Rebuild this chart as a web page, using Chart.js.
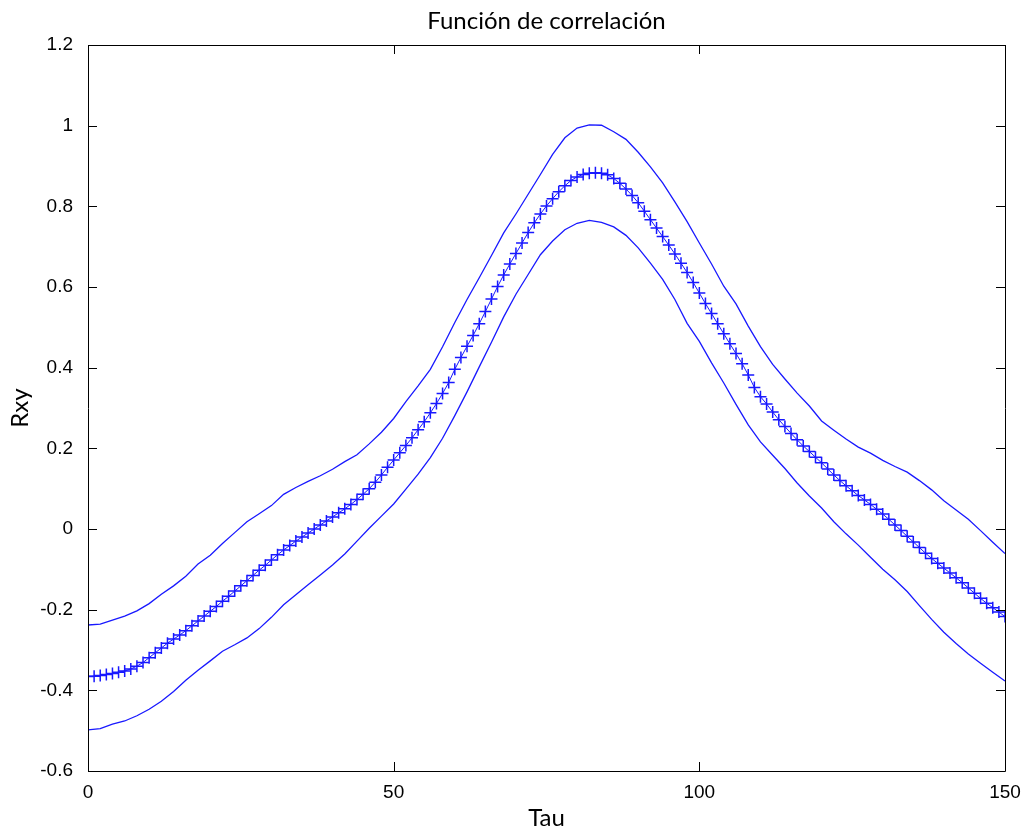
<!DOCTYPE html>
<html>
<head>
<meta charset="utf-8">
<title>Función de correlación</title>
<script src="https://cdn.jsdelivr.net/npm/chart.js@4.4.1/dist/chart.umd.min.js"></script>
<style>
  html, body { margin: 0; padding: 0; background: #fff; }
  #wrap { width: 1028px; height: 835px; position: relative; }
</style>
</head>
<body>
<div id="wrap"><canvas id="corr"></canvas></div>
<script>
// Rxy estimada, un valor por cada Tau entero (0..150)
const rxy = [
  -0.366, -0.365, -0.363, -0.361, -0.358, -0.355, -0.352, -0.347, -0.340, -0.331,
  -0.319, -0.307, -0.295, -0.283, -0.273, -0.263, -0.252, -0.240, -0.228, -0.216,
  -0.204, -0.192, -0.179, -0.167, -0.154, -0.141, -0.128, -0.115, -0.102, -0.090,
  -0.077, -0.064, -0.052, -0.041, -0.030, -0.020, -0.010, 0.000, 0.010, 0.020,
  0.030, 0.040, 0.050, 0.061, 0.073, 0.086, 0.100, 0.116, 0.134, 0.153,
  0.171, 0.189, 0.207, 0.226, 0.246, 0.266, 0.288, 0.311, 0.336, 0.363,
  0.396, 0.425, 0.453, 0.480, 0.509, 0.539, 0.570, 0.601, 0.630, 0.657,
  0.683, 0.709, 0.735, 0.759, 0.781, 0.801, 0.819, 0.836, 0.851, 0.864,
  0.873, 0.879, 0.882, 0.883, 0.882, 0.878, 0.869, 0.857, 0.843, 0.827,
  0.809, 0.788, 0.767, 0.746, 0.725, 0.704, 0.682, 0.659, 0.636, 0.611,
  0.585, 0.559, 0.534, 0.509, 0.484, 0.459, 0.435, 0.410, 0.382, 0.351,
  0.328, 0.310, 0.290, 0.271, 0.254, 0.237, 0.221, 0.206, 0.192, 0.178,
  0.164, 0.149, 0.134, 0.120, 0.107, 0.095, 0.083, 0.072, 0.061, 0.049,
  0.037, 0.024, 0.010, -0.004, -0.018, -0.032, -0.046, -0.060, -0.073, -0.085,
  -0.097, -0.109, -0.121, -0.133, -0.146, -0.159, -0.172, -0.184, -0.195, -0.206,
  -0.217
];

// Bandas de confianza, muestreadas cada 2 unidades de Tau
const tauBand = [
  0, 2, 4, 6, 8, 10, 12, 14, 16, 18, 20, 22, 24, 26, 28, 30, 32, 34, 36, 38,
  40, 42, 44, 46, 48, 50, 52, 54, 56, 58, 60, 62, 64, 66, 68, 70, 72, 74, 76, 78,
  80, 82, 84, 86, 88, 90, 92, 94, 96, 98, 100, 102, 104, 106, 108, 110, 112, 114, 116, 118,
  120, 122, 124, 126, 128, 130, 132, 134, 136, 138, 140, 142, 144, 146, 148, 150
];
const upperBand = [
  -0.238, -0.236, -0.226, -0.216, -0.203, -0.185, -0.162, -0.141, -0.117, -0.087,
  -0.065, -0.036, -0.009, 0.018, 0.038, 0.058, 0.086, 0.103, 0.118, 0.132,
  0.148, 0.167, 0.184, 0.211, 0.240, 0.274, 0.316, 0.355, 0.396, 0.452,
  0.512, 0.569, 0.623, 0.678, 0.734, 0.781, 0.830, 0.879, 0.929, 0.970,
  0.994, 1.002, 1.001, 0.985, 0.966, 0.934, 0.898, 0.858, 0.811, 0.762,
  0.709, 0.657, 0.602, 0.558, 0.503, 0.452, 0.408, 0.372, 0.337, 0.305,
  0.268, 0.245, 0.223, 0.203, 0.188, 0.170, 0.155, 0.141, 0.120, 0.097,
  0.070, 0.047, 0.024, -0.004, -0.033, -0.061
];
const lowerBand = [
  -0.498, -0.495, -0.484, -0.476, -0.463, -0.447, -0.427, -0.403, -0.375, -0.350,
  -0.327, -0.303, -0.287, -0.270, -0.247, -0.219, -0.188, -0.163, -0.138, -0.114,
  -0.089, -0.062, -0.030, 0.002, 0.032, 0.062, 0.099, 0.136, 0.177, 0.225,
  0.281, 0.340, 0.402, 0.463, 0.526, 0.582, 0.631, 0.680, 0.714, 0.742,
  0.758, 0.765, 0.760, 0.749, 0.728, 0.697, 0.659, 0.619, 0.569, 0.510,
  0.465, 0.412, 0.362, 0.309, 0.258, 0.216, 0.183, 0.150, 0.114, 0.082,
  0.052, 0.018, -0.012, -0.040, -0.070, -0.100, -0.126, -0.155, -0.190, -0.224,
  -0.256, -0.284, -0.310, -0.333, -0.355, -0.377
];

const xTicks = [0, 50, 100, 150];
const yTicks = [-0.6, -0.4, -0.2, 0, 0.2, 0.4, 0.6, 0.8, 1, 1.2];
const yTickLabels = ['-0.6', '-0.4', '-0.2', '0', '0.2', '0.4', '0.6', '0.8', '1', '1.2'];

const BLUE = 'rgb(24, 24, 255)';
const labelFont = "Lato, 'Open Sans', sans-serif";
const tickFont = "'Liberation Sans', Arial, sans-serif";

const rxyPoints = rxy.map((v, i) => ({ x: i, y: v }));
const upperPoints = tauBand.map((t, i) => ({ x: t, y: upperBand[i] }));
const lowerPoints = tauBand.map((t, i) => ({ x: t, y: lowerBand[i] }));

// caja cerrada con marcas hacia dentro en los cuatro lados, estilo MATLAB
const boxPlugin = {
  id: 'matlabBox',
  afterDraw(chart) {
    const { ctx, chartArea: a, scales } = chart;
    const len = 9;
    ctx.save();
    ctx.strokeStyle = '#000';
    ctx.lineWidth = 1;
    ctx.beginPath();
    ctx.rect(Math.round(a.left) + 0.5, Math.round(a.top) + 0.5,
             Math.round(a.right - a.left), Math.round(a.bottom - a.top));
    scales.x.ticks.forEach(t => {
      const px = Math.round(scales.x.getPixelForValue(t.value)) + 0.5;
      ctx.moveTo(px, a.bottom); ctx.lineTo(px, a.bottom - len);
      ctx.moveTo(px, a.top); ctx.lineTo(px, a.top + len);
    });
    scales.y.ticks.forEach(t => {
      const py = Math.round(scales.y.getPixelForValue(t.value)) + 0.5;
      ctx.moveTo(a.left, py); ctx.lineTo(a.left + len, py);
      ctx.moveTo(a.right, py); ctx.lineTo(a.right - len, py);
    });
    ctx.stroke();

    // título centrado sobre el área de datos
    ctx.fillStyle = '#000';
    ctx.font = '24px ' + labelFont;
    ctx.textAlign = 'center';
    ctx.textBaseline = 'middle';
    ctx.fillText('Función de correlación', (a.left + a.right) / 2, 21);
    ctx.restore();
  }
};

new Chart(document.getElementById('corr'), {
  type: 'line',
  data: {
    datasets: [
      {
        data: upperPoints,
        borderColor: BLUE,
        borderWidth: 1.3,
        pointRadius: 0,
        tension: 0
      },
      {
        data: lowerPoints,
        borderColor: BLUE,
        borderWidth: 1.3,
        pointRadius: 0,
        tension: 0
      },
      {
        data: rxyPoints,
        borderColor: BLUE,
        borderWidth: 1,
        pointStyle: 'cross',
        pointRadius: 6,
        pointBorderWidth: 1.5,
        pointBorderColor: BLUE,
        tension: 0
      }
    ]
  },
  options: {
    responsive: true,
    maintainAspectRatio: false,
    animation: false,
    layout: { padding: { top: 45, right: 23, left: 0, bottom: 0 } },
    plugins: {
      legend: { display: false },
      tooltip: { enabled: false }
    },
    scales: {
      x: {
        type: 'linear',
        min: 0,
        max: 150,
        afterBuildTicks: s => { s.ticks = xTicks.map(v => ({ value: v })); },
        afterFit: s => { s.height = 64; },
        grid: { display: false },
        border: { display: false },
        ticks: {
          color: '#000',
          font: { family: tickFont, size: 19 },
          padding: 2,
          maxRotation: 0,
          callback: v => String(v)
        },
        title: {
          display: true,
          text: 'Tau',
          color: '#000',
          font: { family: labelFont, size: 24 },
          padding: { top: 0, bottom: 2 }
        }
      },
      y: {
        type: 'linear',
        min: -0.6,
        max: 1.2,
        afterBuildTicks: s => { s.ticks = yTicks.map(v => ({ value: v })); },
        afterFit: s => { s.width = 88; },
        grid: { display: false },
        border: { display: false },
        ticks: {
          color: '#000',
          font: { family: tickFont, size: 19 },
          padding: 7,
          callback: (v, i) => yTickLabels[i]
        },
        title: {
          display: true,
          text: 'Rxy',
          color: '#000',
          font: { family: labelFont, size: 24 },
          padding: { top: 6, bottom: 0 }
        }
      }
    }
  },
  plugins: [boxPlugin]
});
</script>
</body>
</html>
